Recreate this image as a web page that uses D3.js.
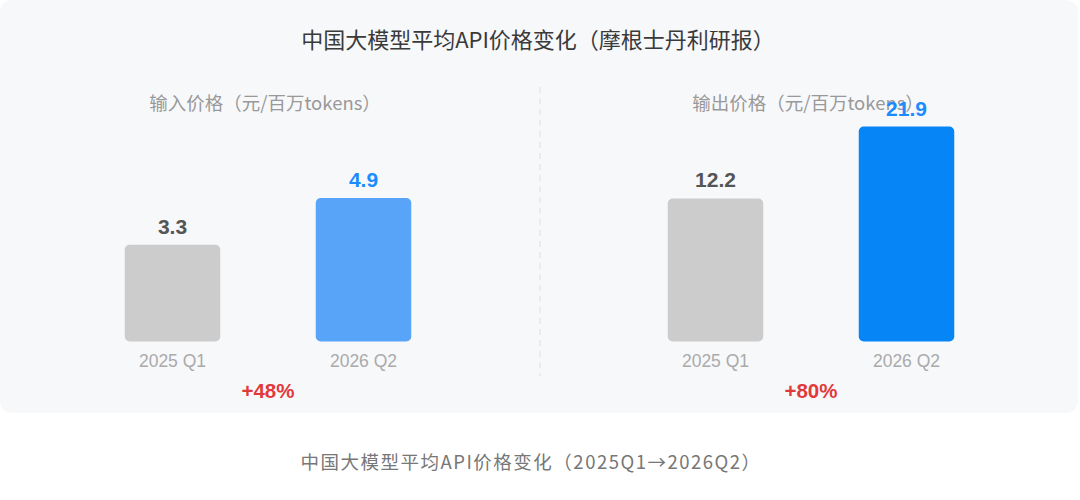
<!DOCTYPE html>
<html>
<head>
<meta charset="utf-8">
<script src="https://cdn.jsdelivr.net/npm/d3@7"></script>
<style>
  html, body { margin: 0; padding: 0; background: #fff; }
  svg { display: block; font-family: "Liberation Sans", "Noto Sans CJK SC", sans-serif; }
</style>
</head>
<body>
<svg id="chart"></svg>
<script>
// data
const title = "中国大模型平均API价格变化（摩根士丹利研报）"
const caption = "中国大模型平均API价格变化（2025Q1→2026Q2）"
const quarters = ["2025 Q1", "2026 Q2"]
const panelTitles = ["输入价格（元/百万tokens）", "输出价格（元/百万tokens）"]
const inputPrice = [3.3, 4.9]
const outputPrice = [12.2, 21.9]
const changes = ["+48%", "+80%"]

const width = 1080, height = 500
const baseY = 341.5

const svg = d3.select("#chart")
    .attr("width", width)
    .attr("height", height)

// card background
svg.append("rect")
    .attr("x", 0).attr("y", 0)
    .attr("width", 1078).attr("height", 413)
    .attr("rx", 12)
    .attr("fill", "#f7f8fa")

svg.append("text")
    .attr("x", 538).attr("y", 48)
    .attr("text-anchor", "middle")
    .attr("font-family", "Noto Sans CJK SC")
    .attr("font-size", "22px")
    .attr("font-weight", 400)
    .attr("fill", "#3a3a3a")
    .text(title)

svg.append("line")
    .attr("x1", 540).attr("x2", 540)
    .attr("y1", 87).attr("y2", 376)
    .attr("stroke", "#dcdfe4")
    .attr("stroke-dasharray", "6,5")

const panels = [
    {name: panelTitles[0], values: inputPrice, change: changes[0], cx: 268, yMin: 0, top: 198, colors: ["#cccccc", "#58a4f8"]},
    {name: panelTitles[1], values: outputPrice, change: changes[1], cx: 811, yMin: -7.1, top: 126.5, colors: ["#cccccc", "#0585f6"]}
]
const labelColors = ["#555555", "#1a8cff"]

panels.forEach(p => {
    const g = svg.append("g")

    const x = d3.scaleBand()
        .domain(quarters)
        .range([p.cx - 191, p.cx + 191])
        .paddingInner(0.5)
        .paddingOuter(0.25)

    const y = d3.scaleLinear()
        .domain([p.yMin, d3.max(p.values)])
        .range([baseY, p.top])

    const rows = quarters.map((q, i) => ({q, v: p.values[i], i}))

    g.append("text")
        .attr("x", p.cx - 3).attr("y", 109.5)
        .attr("text-anchor", "middle")
        .attr("font-family", "Noto Sans CJK SC")
        .attr("font-size", "18.5px")
        .attr("fill", "#999")
        .text(p.name)

    g.selectAll("rect.bar")
        .data(rows)
        .join("rect")
        .attr("class", "bar")
        .attr("x", d => x(d.q))
        .attr("y", d => y(d.v))
        .attr("width", x.bandwidth())
        .attr("height", d => baseY - y(d.v))
        .attr("rx", 5)
        .attr("fill", d => p.colors[d.i])

    g.selectAll("text.val")
        .data(rows)
        .join("text")
        .attr("class", "val")
        .attr("x", d => x(d.q) + x.bandwidth() / 2)
        .attr("y", d => y(d.v) - 11)
        .attr("text-anchor", "middle")
        .attr("font-size", "21px")
        .attr("font-weight", "bold")
        .attr("fill", d => labelColors[d.i])
        .text(d => d.v.toFixed(1))

    g.selectAll("text.tick")
        .data(rows)
        .join("text")
        .attr("class", "tick")
        .attr("x", d => x(d.q) + x.bandwidth() / 2)
        .attr("y", 366.5)
        .attr("text-anchor", "middle")
        .attr("font-size", "17.5px")
        .attr("fill", "#aaa")
        .text(d => d.q)

    g.append("text")
        .attr("x", p.cx).attr("y", 398)
        .attr("text-anchor", "middle")
        .attr("font-size", "20.5px")
        .attr("font-weight", "bold")
        .attr("fill", "#e03a3a")
        .text(p.change)
})

svg.append("text")
    .attr("x", 531).attr("y", 469)
    .attr("text-anchor", "middle")
    .attr("font-family", "Noto Sans CJK SC")
    .attr("font-size", "18.5px")
    .attr("letter-spacing", "1.5px")
    .attr("fill", "#777")
    .text(caption)
</script>
</body>
</html>
